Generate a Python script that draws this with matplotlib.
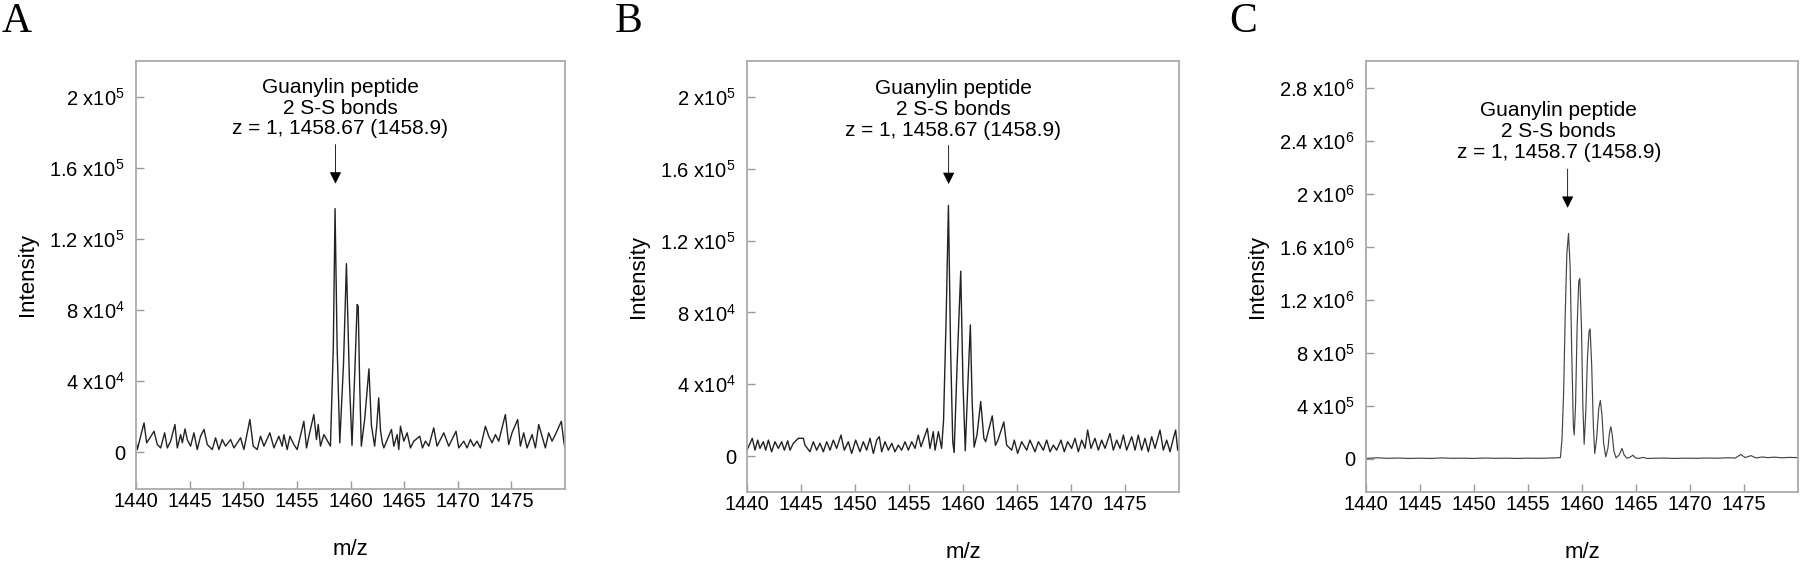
import numpy as np
import matplotlib
matplotlib.use("Agg")
import matplotlib.pyplot as plt

plt.rcParams['font.family'] = ['Liberation Sans', 'DejaVu Sans']
plt.rcParams['mathtext.default'] = 'regular'

# --- panel A: m/z and intensity ---
a_mz = [1440.00, 1440.12, 1440.75, 1440.99, 1441.30, 1441.68, 1441.99, 1442.30, 1442.67, 1442.92,
        1443.23, 1443.63, 1443.85, 1444.16, 1444.32, 1444.57, 1444.78, 1445.09, 1445.40, 1445.71,
        1446.02, 1446.34, 1446.65, 1447.11, 1447.42, 1447.73, 1448.04, 1448.35, 1448.82, 1449.13,
        1449.75, 1450.06, 1450.62, 1450.93, 1451.30, 1451.61, 1451.93, 1452.48, 1452.86, 1453.32,
        1453.63, 1453.79, 1454.10, 1454.35, 1454.72, 1455.03, 1455.65, 1455.90, 1456.12, 1456.58,
        1456.83, 1456.99, 1457.20, 1457.52, 1458.13, 1458.40, 1458.56, 1458.75, 1459.00, 1459.35,
        1459.62, 1459.90, 1460.14, 1460.40, 1460.62, 1460.72, 1460.85, 1461.01, 1461.32, 1461.72,
        1461.95, 1462.25, 1462.45, 1462.63, 1462.80, 1462.97, 1463.11, 1463.82, 1464.04, 1464.35,
        1464.50, 1464.66, 1464.97, 1465.28, 1465.59, 1465.90, 1466.46, 1466.71, 1466.99, 1467.30,
        1467.76, 1468.07, 1468.70, 1469.16, 1469.84, 1470.09, 1470.56, 1470.87, 1471.18, 1471.49,
        1471.80, 1472.11, 1472.58, 1472.89, 1473.20, 1473.51, 1473.82, 1474.44, 1474.75, 1475.06,
        1475.59, 1475.84, 1476.15, 1476.46, 1476.93, 1477.24, 1477.55, 1477.86, 1478.17, 1478.48,
        1478.79, 1479.10, 1479.66, 1479.88, 1480.00]
a_int = [6100, 1400, 16400, 5200, 8000, 11700, 4200, 2300, 10800, 2300,
         6100, 15500, 2300, 9800, 5200, 13000, 7000, 3300, 10800, 1400,
         8900, 12700, 4200, 1400, 8000, 1400, 7000, 3300, 7000, 2300,
         8000, 1400, 18300, 3300, 1400, 8900, 3300, 10800, 2300, 8900,
         3300, 9800, 1400, 8900, 4200, 1400, 17300, 2300, 8900, 21100,
         7000, 15500, 3300, 9800, 3300, 60000, 137000, 60000, 5200, 50000,
         106000, 40000, 3700, 45000, 83000, 82000, 40000, 3300, 18300, 46800,
         15000, 3300, 15000, 30500, 12000, 5200, 2300, 12700, 3300, 9800,
         1400, 14500, 6100, 10800, 2300, 6100, 8900, 2300, 6100, 3300,
         13600, 3300, 10800, 3300, 11700, 2300, 6100, 2300, 7000, 3300,
         6100, 2300, 14500, 8900, 5200, 9800, 6100, 21100, 4200, 10800,
         18300, 3300, 10800, 2300, 9800, 2300, 15500, 8900, 2300, 10800,
         6100, 9800, 17300, 6100, 2300]

# --- panel B ---
b_mz = [1440.00, 1440.49, 1440.74, 1440.99, 1441.20, 1441.51, 1441.73, 1441.98, 1442.28, 1442.59,
        1442.90, 1443.21, 1443.46, 1443.77, 1443.98, 1444.29, 1444.75, 1445.22, 1445.37, 1445.83,
        1446.14, 1446.45, 1446.76, 1447.07, 1447.38, 1447.69, 1447.99, 1448.30, 1448.70, 1449.01,
        1449.38, 1449.69, 1450.06, 1450.46, 1450.77, 1451.08, 1451.39, 1451.70, 1452.01, 1452.25,
        1452.47, 1452.78, 1453.09, 1453.40, 1453.70, 1454.01, 1454.32, 1454.63, 1454.94, 1455.25,
        1455.56, 1455.86, 1456.11, 1456.70, 1456.94, 1457.25, 1457.41, 1457.56, 1457.72, 1458.02,
        1458.20, 1458.45, 1458.65, 1458.85, 1459.05, 1459.18, 1459.45, 1459.79, 1460.00, 1460.21,
        1460.45, 1460.68, 1460.85, 1461.03, 1461.30, 1461.64, 1461.93, 1462.10, 1462.71, 1463.00,
        1463.24, 1463.78, 1464.04, 1464.51, 1464.75, 1465.06, 1465.43, 1465.90, 1466.20, 1466.67,
        1466.98, 1467.44, 1467.75, 1468.06, 1468.36, 1468.67, 1469.07, 1469.38, 1469.69, 1470.06,
        1470.37, 1470.68, 1470.99, 1471.30, 1471.54, 1471.85, 1472.22, 1472.53, 1472.84, 1473.15,
        1473.61, 1473.92, 1474.23, 1474.54, 1474.85, 1475.15, 1475.62, 1475.93, 1476.23, 1476.54,
        1476.85, 1477.16, 1477.47, 1477.78, 1478.24, 1478.55, 1478.86, 1479.17, 1479.48, 1479.69,
        1479.88, 1480.00]
b_int = [3300, 9900, 3300, 8900, 4300, 8000, 3300, 8900, 2400, 8000,
         4300, 8000, 3300, 8500, 3300, 7100, 9900, 9900, 6100, 2400,
         8000, 3300, 7100, 2400, 8000, 3300, 8900, 4300, 11700, 3300,
         8000, 1500, 8900, 2400, 8000, 3300, 9900, 1500, 8900, 10800,
         2400, 8000, 3300, 7100, 2400, 6100, 3300, 8000, 3300, 8000,
         4300, 11700, 5200, 15400, 4300, 13600, 3300, 8000, 13600, 4300,
         20000, 80000, 139600, 60000, 8000, 2000, 50000, 103000, 40000, 3000,
         40000, 73000, 30000, 5000, 12000, 30400, 10000, 8000, 22400, 6000,
         9000, 19000, 6100, 3300, 8900, 1500, 8000, 3300, 8900, 2400,
         8000, 3300, 8900, 2400, 6100, 3300, 8900, 2400, 8000, 4300,
         9900, 2400, 8900, 4300, 14500, 4300, 9900, 3300, 8900, 4300,
         12600, 3300, 8900, 4300, 11700, 3300, 10800, 3300, 11700, 3300,
         9900, 2400, 10800, 4300, 14500, 3300, 8900, 2400, 9900, 14500,
         3300, 5000]

# --- panel C ---
c_mz = [1440.0, 1441.0, 1442.0, 1443.0, 1444.0, 1445.0, 1446.0, 1447.0, 1448.0, 1449.0,
        1450.0, 1451.0, 1452.0, 1453.0, 1454.0, 1455.0, 1456.0, 1457.0, 1457.7, 1458.0,
        1458.15, 1458.3, 1458.45, 1458.6, 1458.75, 1458.9, 1459.05, 1459.2, 1459.28, 1459.4,
        1459.55, 1459.7, 1459.8, 1459.95, 1460.08, 1460.2, 1460.35, 1460.5, 1460.65, 1460.75,
        1460.9, 1461.05, 1461.18, 1461.35, 1461.55, 1461.7, 1461.85, 1462.0, 1462.2, 1462.4,
        1462.55, 1462.67, 1462.8, 1462.95, 1463.15, 1463.45, 1463.7, 1463.9, 1464.15, 1464.45,
        1464.7, 1464.95, 1465.2, 1465.7, 1466.0, 1466.5, 1467.5, 1468.5, 1469.5, 1470.5,
        1471.5, 1472.5, 1473.5, 1474.2, 1474.7, 1475.1, 1475.65, 1476.1, 1476.7, 1477.2,
        1477.8, 1478.5, 1479.2, 1480.0]
c_int = [3000, 8000, 4000, 6000, 3000, 5000, 3000, 7000, 4000, 5000,
         3000, 6000, 4000, 5000, 3000, 5000, 4000, 6000, 8000, 10000,
         150000, 500000, 1100000, 1550000, 1700000, 1450000, 800000, 250000, 180000, 400000,
         1000000, 1340000, 1360000, 1000000, 400000, 110000, 350000, 750000, 960000, 980000,
         700000, 250000, 40000, 150000, 380000, 440000, 330000, 120000, 15000, 80000,
         200000, 242000, 180000, 60000, 8000, 30000, 79000, 30000, 5000, 12000,
         27000, 8000, 3000, 11000, 3000, 4000, 6000, 3000, 5000, 4000,
         6000, 5000, 8000, 6000, 33000, 10000, 24000, 7000, 14000, 9000,
         13000, 8000, 11000, 9000]

x_ticks = [1440, 1445, 1450, 1455, 1460, 1465, 1470, 1475]
ab_yticks = [0, 4e4, 8e4, 1.2e5, 1.6e5, 2e5]
ab_ylabels = ['0', '4 x10$^4$', '8 x10$^4$', '1.2 x10$^5$', '1.6 x10$^5$', '2 x10$^5$']
c_yticks = [0, 4e5, 8e5, 1.2e6, 1.6e6, 2e6, 2.4e6, 2.8e6]
c_ylabels = ['0', '4 x10$^5$', '8 x10$^5$', '1.2 x10$^6$', '1.6 x10$^6$',
             '2 x10$^6$', '2.4 x10$^6$', '2.8 x10$^6$']

W, H = 1800, 565
fig = plt.figure(figsize=(W / 100, H / 100), dpi=100)


def make_ax(left, right, top, bottom):
    return fig.add_axes([left / W, 1 - bottom / H, (right - left) / W, (bottom - top) / H])


def style(ax, yticks, ylabels, ylim):
    ax.set_xlim(1440, 1480)
    ax.set_ylim(*ylim)
    ax.set_xticks(x_ticks)
    ax.set_yticks(yticks)
    ax.set_yticklabels(ylabels)
    ax.tick_params(direction='in', length=6, width=1, color='#999999', labelsize=14.5)
    ax.tick_params(axis='x', pad=2.5)
    ax.tick_params(axis='y', pad=8)
    for s in ax.spines.values():
        s.set_color('#aaaaaa')
        s.set_linewidth(1.3)
    ax.set_xlabel('m/z', fontsize=16, labelpad=20)
    ax.set_ylabel('Intensity', fontsize=16, labelpad=8)


def label_peak(ax, tx, ty, text, ax_x, y0, y1):
    ax.text(tx, ty, text, ha='center', va='center', fontsize=15, linespacing=1.12)
    ax.annotate('', xy=(ax_x, y1), xytext=(ax_x, y0),
                arrowprops=dict(arrowstyle='-|>', color='black', lw=0.6,
                                mutation_scale=18, shrinkA=0, shrinkB=0))


# A
ax1 = make_ax(136, 565, 61, 489)
ax1.plot(a_mz, a_int, color='#222222', lw=1.0)
style(ax1, ab_yticks, ab_ylabels, (-2.08e4, 2.2e5))
label_peak(ax1, 1459.04, 1.935e5, 'Guanylin peptide\n2 S-S bonds\nz = 1, 1458.67 (1458.9)',
           1458.6, 1.73e5, 1.51e5)

# B
ax2 = make_ax(747, 1179, 61, 492)
ax2.plot(b_mz, b_int, color='#222222', lw=1.0)
style(ax2, ab_yticks, ab_ylabels, (-2.0e4, 2.2e5))
label_peak(ax2, 1459.07, 1.93e5, 'Guanylin peptide\n2 S-S bonds\nz = 1, 1458.67 (1458.9)',
           1458.67, 1.73e5, 1.515e5)

# C
ax3 = make_ax(1366, 1798, 61, 492)
ax3.plot(c_mz, c_int, color='#444444', lw=0.85)
style(ax3, c_yticks, c_ylabels, (-2.5e5, 3.0e6))
label_peak(ax3, 1457.85, 2.47e6, 'Guanylin peptide\n2 S-S bonds\nz = 1, 1458.7 (1458.9)',
           1458.67, 2.185e6, 1.893e6)

for x, letter in [(2, 'A'), (615, 'B'), (1229, 'C')]:
    fig.text(x / W, 1 - 32.5 / H, letter, fontsize=30, family='Liberation Serif',
             ha='left', va='baseline')

fig.savefig('out.png', dpi=100)
